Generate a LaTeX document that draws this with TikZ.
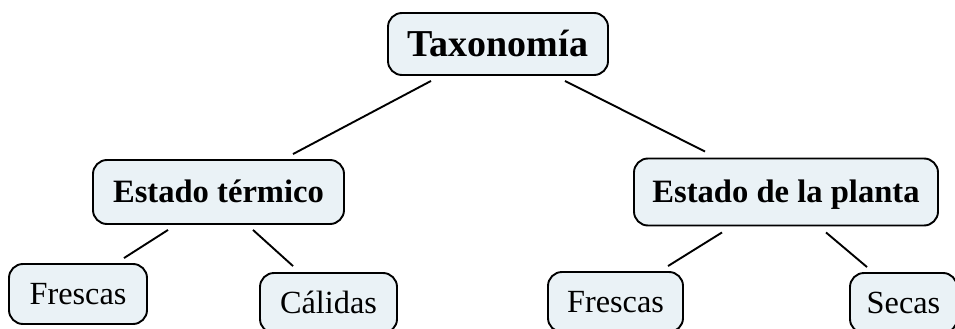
\documentclass[tikz,border=0pt]{standalone}
\usepackage{fontspec}
\setmainfont{Liberation Serif}
\usetikzlibrary{calc}
\definecolor{boxfill}{RGB}{234,242,246}
\tikzset{
  box/.style={draw=black, line width=1.9pt, fill=boxfill, rounded corners=14pt,
    inner sep=0pt, text depth=0pt, align=center},
  bigbold/.style={box, text height=25pt, font=\fontsize{38}{42}\selectfont\bfseries},
  midbold/.style={box, text height=21.5pt, font=\fontsize{32.6}{36}\selectfont\bfseries},
  leaf/.style={box, text height=21.5pt, font=\fontsize{32.3}{36}\selectfont},
  link/.style={draw=black, line width=1.9pt}
}
\begin{document}
\begin{tikzpicture}[x=1pt, y=-1pt]
\useasboundingbox (0,0) rectangle (955,329);
\clip (0,0) rectangle (955,329);
\fill[white] (0,0) rectangle (955,329);

\node[bigbold, minimum width=220pt, minimum height=62pt] (tax) at (498,44) {Taxonomía};
\node[midbold, minimum width=251pt, minimum height=64pt] (et) at (218.5,192) {Estado térmico};
\node[midbold, minimum width=304pt, minimum height=67pt] (ep) at (786,192) {Estado de la planta};
\node[leaf, minimum width=138pt, minimum height=60pt] (f1) at (78,294) {Frescas};
\node[leaf, minimum width=137pt, minimum height=60pt] (ca) at (328.5,303) {Cálidas};
\node[leaf, minimum width=135pt, minimum height=60pt] (f2) at (615.5,302) {Frescas};
\node[leaf, minimum width=107pt, minimum height=60pt] (se) at (903.5,303) {Secas};

\draw[link] ($(tax.south)+(-67,5)$) -- ($(et.north)+(74.5,-5)$);
\draw[link] ($(tax.south)+(67,5)$) -- ($(ep.north)+(-81,-6)$);
\draw[link] ($(et.south)+(-50.5,5)$) -- ($(f1.north)+(46,-5)$);
\draw[link] ($(et.south)+(34.5,5)$) -- ($(ca.north)+(-35.5,-6)$);
\draw[link] ($(ep.south)+(-64,6)$) -- ($(f2.north)+(52.5,-5)$);
\draw[link] ($(ep.south)+(40,6)$) -- ($(se.north)+(-36.5,-5)$);
\end{tikzpicture}
\end{document}
